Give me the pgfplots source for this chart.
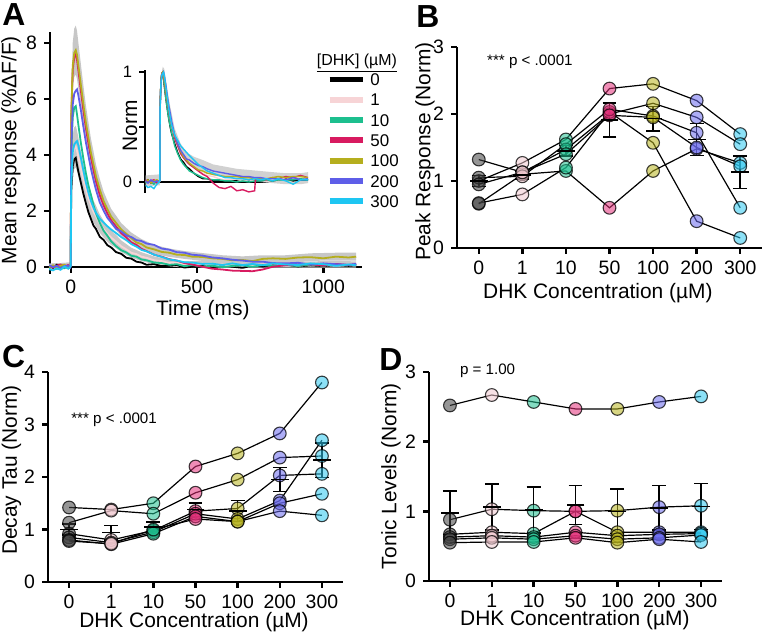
\documentclass[border=0pt]{standalone}
\usepackage{fontspec}
\setmainfont{Liberation Sans}
\usepackage{pgfplots}
\pgfplotsset{compat=1.18}
\usepackage{pgfplotstable}

\definecolor{tz}{HTML}{000000}
\definecolor{to}{HTML}{F7D4D6}
\definecolor{tte}{HTML}{1DBF8E}
\definecolor{tfi}{HTML}{D81B60}
\definecolor{th}{HTML}{B5AE1E}
\definecolor{tt}{HTML}{5E5EE8}
\definecolor{tth}{HTML}{1EC6F2}
\definecolor{mz}{HTML}{404040}
\definecolor{mo}{HTML}{F0C8CF}
\definecolor{mte}{HTML}{1FBF8F}
\definecolor{mfi}{HTML}{E3307A}
\definecolor{mh}{HTML}{B8B41E}
\definecolor{mt}{HTML}{6A6AEE}
\definecolor{mth}{HTML}{2EC8F0}

\pgfplotstableread{
t c0 c1 c10 c50 c100 c200 c300
-85 0.05 0.02 -0.05 0.03 0.00 0.06 -0.08
-70 -0.03 0.05 0.04 -0.02 0.06 0.00 -0.12
-55 0.08 -0.02 -0.06 0.05 -0.03 0.04 -0.05
-40 0.00 0.04 0.02 0.09 0.05 -0.04 -0.10
-25 0.06 0.00 -0.04 0.02 0.08 0.03 0.02
-10 -0.04 0.05 0.03 0.07 -0.02 0.05 -0.06
-2 0.02 0.00 0.01 0.00 0.03 -0.02 0.00
0 0.05 0.05 0.05 0.05 0.05 0.05 0.05
2 2.70 3.00 4.00 5.30 5.40 4.20 3.00
8 3.60 4.00 5.35 7.05 7.20 5.80 4.10
14 3.85 4.25 5.70 7.50 7.65 6.20 4.38
20 3.90 4.30 5.75 7.60 7.75 6.30 4.45
25 3.65 4.15 5.45 7.40 7.58 6.35 4.50
30 3.42 3.95 5.10 7.05 7.22 6.15 4.36
40 3.02 3.52 4.45 6.32 6.52 5.62 3.92
50 2.62 3.12 3.88 5.62 5.82 5.02 3.46
60 2.28 2.78 3.36 4.97 5.16 4.46 3.02
70 1.96 2.46 2.92 4.42 4.62 3.98 2.66
80 1.72 2.22 2.58 3.92 4.08 3.52 2.36
90 1.48 1.98 2.22 3.47 3.67 3.12 2.12
100 1.36 1.82 1.92 3.06 3.24 2.76 1.94
115 1.08 1.55 1.58 2.57 2.77 2.31 1.73
130 0.97 1.36 1.30 2.21 2.36 2.02 1.59
145 0.78 1.19 1.12 1.92 2.07 1.76 1.46
160 0.70 1.05 0.92 1.67 1.80 1.60 1.34
180 0.53 0.90 0.74 1.44 1.57 1.36 1.21
200 0.47 0.74 0.60 1.21 1.34 1.27 1.07
220 0.33 0.63 0.52 1.06 1.19 1.13 0.96
240 0.30 0.51 0.40 0.88 1.03 1.07 0.82
260 0.19 0.46 0.37 0.79 0.88 0.96 0.73
280 0.16 0.37 0.27 0.65 0.82 0.93 0.61
300 0.08 0.33 0.24 0.57 0.70 0.84 0.56
330 0.10 0.24 0.16 0.44 0.63 0.79 0.44
360 0.03 0.21 0.14 0.37 0.54 0.66 0.36
390 0.05 0.14 0.08 0.28 0.51 0.62 0.27
420 0.07 0.15 0.10 0.23 0.44 0.53 0.23
450 -0.02 0.09 0.03 0.14 0.43 0.51 0.17
480 0.01 0.09 0.07 0.09 0.37 0.44 0.16
520 0.04 0.11 0.01 0.01 0.36 0.41 0.11
560 -0.01 0.05 0.05 -0.06 0.31 0.34 0.12
600 0.06 0.09 -0.01 -0.09 0.29 0.31 0.07
640 0.01 0.04 0.04 -0.13 0.24 0.26 0.13
680 -0.03 0.08 0.06 -0.14 0.25 0.23 0.07
720 0.05 0.03 0.01 -0.15 0.21 0.19 0.11
760 0.02 0.09 0.07 -0.09 0.29 0.19 0.06
800 0.06 0.05 0.03 0.01 0.31 0.14 0.13
850 0.09 0.10 0.08 0.06 0.29 0.13 0.09
900 0.02 0.04 0.04 0.09 0.34 0.15 0.07
950 0.06 0.09 0.09 0.10 0.35 0.09 0.13
1000 0.03 0.05 0.05 0.05 0.31 0.13 0.10
1050 0.07 0.10 0.10 0.11 0.37 0.10 0.04
1100 0.04 0.07 0.06 0.07 0.34 0.08 0.09
1130 0.06 0.09 0.09 0.10 0.37 0.11 0.06
}\traces

\pgfplotstableread{
t n0 n1 n10 n50 n100 n200 n300
-95 0.00 0.01 -0.01 0.02 0.00 0.01 -0.03
-80 0.02 -0.01 0.01 0.00 0.02 -0.01 -0.05
-60 -0.01 0.02 0.00 0.01 -0.01 0.02 -0.04
-40 0.01 0.00 -0.02 0.02 0.01 0.00 -0.06
-20 0.00 0.01 0.01 -0.01 0.02 0.01 -0.02
-5 0.01 0.00 0.00 0.01 0.00 0.00 0.00
0 0.01 0.01 0.01 0.01 0.01 0.01 0.01
2 0.70 0.70 0.70 0.70 0.70 0.66 0.67
8 0.92 0.93 0.93 0.93 0.93 0.91 0.91
14 0.99 0.99 0.99 0.99 0.99 0.98 0.97
20 1.00 1.00 1.00 1.00 1.00 0.99 0.99
25 0.94 0.96 0.95 0.97 0.98 1.00 1.00
30 0.88 0.92 0.89 0.93 0.93 0.97 0.97
40 0.77 0.82 0.77 0.83 0.84 0.89 0.87
50 0.67 0.73 0.67 0.74 0.75 0.79 0.77
60 0.58 0.65 0.58 0.65 0.67 0.70 0.67
70 0.50 0.57 0.51 0.58 0.60 0.63 0.59
80 0.44 0.52 0.45 0.52 0.53 0.55 0.52
100 0.35 0.42 0.33 0.40 0.42 0.43 0.43
120 0.27 0.35 0.26 0.33 0.35 0.35 0.38
140 0.21 0.29 0.20 0.26 0.28 0.29 0.33
160 0.18 0.24 0.16 0.22 0.23 0.25 0.30
180 0.14 0.21 0.13 0.19 0.20 0.21 0.27
200 0.12 0.17 0.10 0.16 0.17 0.20 0.24
230 0.08 0.14 0.08 0.13 0.14 0.17 0.20
260 0.05 0.11 0.06 0.10 0.11 0.15 0.16
290 0.03 0.08 0.04 0.07 0.10 0.14 0.13
320 0.03 0.06 0.03 0.05 0.08 0.12 0.10
360 0.01 0.05 0.02 -0.01 0.07 0.10 0.08
400 0.01 0.03 0.02 -0.05 0.06 0.09 0.06
440 0.00 0.02 0.01 -0.06 0.05 0.08 0.04
480 0.01 0.02 0.01 -0.04 0.05 0.07 0.04
520 0.01 0.03 0.00 -0.08 0.05 0.06 0.03
560 0.00 0.01 0.01 -0.07 0.04 0.05 0.03
600 0.02 0.02 0.00 -0.09 0.04 0.05 0.02
640 0.00 0.01 0.01 -0.08 0.03 0.04 0.03
645 0.01 0.02 0.01 0.02 0.03 0.04 0.03
680 0.01 0.02 0.01 0.03 0.03 0.04 0.02
720 0.02 0.01 0.02 0.02 0.03 0.03 0.03
760 0.01 0.03 0.01 0.04 0.04 0.03 0.01
800 0.02 0.02 0.02 0.03 0.05 0.03 0.03
850 0.03 0.04 0.02 0.05 0.04 0.02 0.01
900 0.01 0.03 0.02 0.04 0.05 0.04 -0.02
950 0.02 0.04 0.03 0.06 0.05 0.02 0.02
1000 0.02 0.03 0.02 0.04 0.04 0.03 0.02
}\inset

\pgfplotstableread{
x s1 s2 s3 s4 s5 s6
0 1.00 0.66 1.32 0.67 1.05 0.95
1 1.27 1.10 1.13 0.80 1.07 1.13
2 1.62 1.15 1.47 1.20 1.55 1.40
3 2.38 0.60 2.00 2.03 2.07 1.98
4 2.45 1.15 2.16 1.57 1.97 1.95
5 2.20 1.48 1.95 0.40 1.72 1.50
6 1.70 1.27 1.55 0.15 0.60 1.22
}\peakdata
\pgfplotstableread{
x m e
0 1.00 0.08
1 1.09 0.06
2 1.45 0.08
3 1.91 0.25
4 1.93 0.18
5 1.62 0.24
6 1.13 0.24
}\peakmean

\pgfplotstableread{
x s1 s2 s3 s4 s5 s6
0 1.42 1.13 0.92 0.85 0.80 0.78
1 1.38 1.36 0.80 0.75 0.72 0.73
2 1.50 1.30 0.98 0.95 0.92 1.00
3 2.20 1.70 1.35 1.30 1.25 1.20
4 2.45 1.95 1.40 1.20 1.15 1.15
5 2.83 2.37 2.03 1.55 1.50 1.35
6 3.80 2.40 2.06 2.70 1.68 1.27
}\taudata
\pgfplotstableread{
x m e
0 1.00 0.10
1 0.94 0.14
2 1.05 0.09
3 1.38 0.13
4 1.35 0.20
5 1.95 0.23
6 2.32 0.33
}\taumean

\pgfplotstableread{
x s1 s2 s3 s4 s5 s6
0 2.52 0.88 0.67 0.63 0.60 0.55
1 2.67 1.03 0.70 0.65 0.62 0.56
2 2.57 1.01 0.68 0.63 0.60 0.56
3 2.47 1.00 1.00 0.70 0.65 0.62
4 2.47 1.01 0.70 0.65 0.60 0.55
5 2.57 1.06 0.70 0.67 0.62 0.60
6 2.65 1.08 0.70 0.68 0.66 0.56
}\tonicdata
\pgfplotstableread{
x m e
0 0.98 0.31
1 1.06 0.33
2 1.02 0.33
3 1.09 0.28
4 1.00 0.32
5 1.05 0.32
6 1.07 0.33
}\tonicmean

\pgfplotsset{
  myaxis/.style={
    scale only axis,
    axis line style={line width=1.3pt},
    tick style={line width=1.2pt, black},
    major tick length=3pt,
    tick align=outside,
    tick label style={font=\fontsize{9.75}{10}\selectfont},
    label style={font=\fontsize{10.5}{11}\selectfont},
    /pgf/number format/assume math mode=true,
    /pgf/number format/1000 sep={},
    clip=false,
  },
  catx/.style={
    axis x line*=bottom, axis y line*=left,
    xmin=-0.5, xmax=6.5,
    xtick={0,...,6}, xticklabels={0,1,10,50,100,200,300},
    xlabel={DHK Concentration (µM)},
  },
  subj/.style={black, line width=0.6pt, mark=none},
  dots/.style={only marks, scatter, mark=*, mark size=3.2pt,
    point meta=explicit symbolic,
    mark options={draw=black, draw opacity=0.75, fill opacity=0.55, line width=0.55pt},
    scatter/classes={0={fill=mz},1={fill=mo},2={fill=mte},3={fill=mfi},4={fill=mh},5={fill=mt},6={fill=mth}}},
  meanbar/.style={black, only marks, mark=-, mark size=4.5pt, line width=0.8pt,
    error bars/.cd, y dir=both, y explicit,
    error bar style={line width=0.8pt, black},
    error mark options={rotate=90, mark size=3.5pt, line width=0.8pt, black}},
  trace/.style={line width=0.9pt, mark=none},
}

\newcommand{\subjectplots}[2]{%
  \addplot[subj] table[x=x,y=s1]{#1};
  \addplot[subj] table[x=x,y=s2]{#1};
  \addplot[subj] table[x=x,y=s3]{#1};
  \addplot[subj] table[x=x,y=s4]{#1};
  \addplot[subj] table[x=x,y=s5]{#1};
  \addplot[subj] table[x=x,y=s6]{#1};
  \addplot[dots] table[x=x,y=s1,meta=x]{#1};
  \addplot[dots] table[x=x,y=s2,meta=x]{#1};
  \addplot[dots] table[x=x,y=s3,meta=x]{#1};
  \addplot[dots] table[x=x,y=s4,meta=x]{#1};
  \addplot[dots] table[x=x,y=s5,meta=x]{#1};
  \addplot[dots] table[x=x,y=s6,meta=x]{#1};
  \addplot[meanbar] table[x=x,y=m,y error=e]{#2};
}

\begin{document}
\begin{tikzpicture}
\path[use as bounding box] (0,0) rectangle (383bp,319bp);

% ---------- A main ----------
\begin{axis}[myaxis, at={(25bp,182bp)}, anchor=south west,
  width=156bp, height=121bp,
  xmin=-82, xmax=1153, ymin=-0.25, ymax=8.4,
  axis x line*=middle, axis y line*=left,
  xtick={0,500,1000}, ytick={0,2,4,6,8},
  xlabel={Time (ms)}, ylabel={Mean response (\%ΔF/F)},
  xlabel style={at={(axis description cs:0.49,-0.149)}, anchor=center},
  ylabel style={at={(axis description cs:-0.125,0.512)}, anchor=center},
  legend style={at={(axis description cs:0.885,0.835)}, anchor=north west,
    draw=none, fill=none, inner sep=0pt, row sep=3pt, column sep=2pt,
    font=\fontsize{8.5}{9}\selectfont, cells={anchor=west},
    nodes={inner sep=0.5pt, text height=6.2pt, text depth=0pt}},
  legend image code/.code={\draw[#1, line width=3pt] (0bp,0bp) -- (16.5bp,0bp);},
]
% SEM bands (upper edge forward, lower edge back)
\addplot[fill=black!22, draw=none, forget plot] coordinates {
(-85,0.12)(0,0.16)(2,6.04)(8,8.02)(14,8.52)(20,8.63)(25,8.44)(30,8.04)(40,7.27)(50,6.50)(60,5.78)(70,5.18)(80,4.59)(90,4.14)(100,3.66)(115,3.15)(130,2.70)(145,2.38)(160,2.08)(180,1.83)(200,1.57)(240,1.23)(280,1.00)(330,0.79)(390,0.66)(450,0.57)(520,0.50)(600,0.42)(680,0.38)(760,0.42)(850,0.42)(950,0.49)(1050,0.51)(1130,0.51)
(1130,0.23)(1050,0.23)(950,0.22)(850,0.16)(760,0.16)(680,0.13)(600,0.16)(520,0.22)(450,0.29)(390,0.36)(330,0.47)(280,0.64)(240,0.83)(200,1.11)(180,1.31)(160,1.52)(145,1.76)(130,2.02)(115,2.39)(100,2.82)(90,3.20)(80,3.57)(70,4.06)(60,4.54)(50,5.14)(40,5.77)(30,6.40)(25,6.72)(20,6.88)(14,6.79)(8,6.38)(2,4.76)(0,-0.06)(-85,-0.10)
};
\addplot[fill=black!22, draw=none, forget plot] coordinates {
(-85,0.12)(0,0.16)(2,3.55)(8,4.70)(14,4.99)(20,5.05)(25,4.87)(30,4.64)(40,4.15)(50,3.69)(60,3.30)(70,2.93)(80,2.65)(90,2.38)(100,2.19)(115,1.88)(130,1.66)(145,1.47)(160,1.31)(180,1.14)(200,0.95)(240,0.69)(280,0.53)(330,0.38)(390,0.26)(450,0.20)(520,0.23)(600,0.20)(680,0.19)(760,0.20)(850,0.22)(950,0.20)(1050,0.22)(1130,0.20)
(1130,-0.02)(1050,-0.02)(950,-0.02)(850,-0.02)(760,-0.02)(680,-0.03)(600,-0.02)(520,0.00)(450,-0.02)(390,0.02)(330,0.10)(280,0.21)(240,0.33)(200,0.53)(180,0.67)(160,0.79)(145,0.91)(130,1.06)(115,1.22)(100,1.45)(90,1.58)(80,1.79)(70,1.99)(60,2.26)(50,2.55)(40,2.89)(30,3.26)(25,3.43)(20,3.56)(14,3.51)(8,3.30)(2,2.45)(0,-0.06)(-85,-0.10)
};
\addplot[trace, tz] table[x=t,y=c0]{\traces};
\addplot[trace, to] table[x=t,y=c1]{\traces};
\addplot[trace, tte] table[x=t,y=c10]{\traces};
\addplot[trace, tfi] table[x=t,y=c50]{\traces};
\addplot[trace, th] table[x=t,y=c100]{\traces};
\addplot[trace, tt] table[x=t,y=c200]{\traces};
\addplot[trace, tth] table[x=t,y=c300]{\traces};
\legend{0,1,10,50,100,200,300}
\node[anchor=west, font=\fontsize{8}{9}\selectfont] at (axis description cs:0.833,0.872) {\underline{[DHK] (µM)}};
\end{axis}

% ---------- A inset ----------
\begin{axis}[myaxis, at={(72.5bp,222.5bp)}, anchor=south west,
  width=81.5bp, height=61.5bp,
  xmin=-100, xmax=1000, ymin=-0.1, ymax=1.02,
  axis x line*=middle, axis y line*=left,
  xtick=\empty, ytick={0,0.5,1}, yticklabels={0,,1},
  tick label style={font=\fontsize{8.3}{9}\selectfont},
  ylabel={Norm},
  ylabel style={at={(axis description cs:-0.092,0.545)}, anchor=center},
]
\addplot[fill=black!18, draw=none, forget plot] coordinates {
(-95,0.06)(0,0.07)(2,0.72)(8,0.97)(20,1.05)(30,1.03)(50,0.85)(70,0.69)(100,0.49)(140,0.35)(180,0.27)(230,0.23)(290,0.20)(360,0.16)(440,0.14)(520,0.12)(600,0.11)(680,0.10)(760,0.09)(850,0.08)(950,0.08)(1000,0.09)
(1000,-0.01)(950,-0.02)(850,-0.02)(760,-0.01)(680,0.00)(600,0.01)(520,0.02)(440,0.04)(360,0.06)(290,0.10)(230,0.13)(180,0.17)(140,0.25)(100,0.39)(70,0.59)(50,0.75)(30,0.93)(20,0.95)(8,0.87)(2,0.62)(0,-0.03)(-95,-0.04)
};
\addplot[line width=0.7pt, tz] table[x=t,y=n0]{\inset};
\addplot[line width=0.7pt, to] table[x=t,y=n1]{\inset};
\addplot[line width=0.7pt, tte] table[x=t,y=n10]{\inset};
\addplot[line width=0.7pt, tfi] table[x=t,y=n50]{\inset};
\addplot[line width=0.7pt, th] table[x=t,y=n100]{\inset};
\addplot[line width=0.7pt, tt] table[x=t,y=n200]{\inset};
\addplot[line width=0.7pt, tth] table[x=t,y=n300]{\inset};
\end{axis}

% ---------- B ----------
\begin{axis}[myaxis, catx, at={(228.5bp,195bp)}, anchor=south west,
  width=152.5bp, height=100.5bp,
  ymin=0, ymax=3, ytick={0,1,2,3},
  ylabel={Peak Response (Norm)},
  xlabel style={at={(axis description cs:0.462,-0.224)}, anchor=center},
  ylabel style={at={(axis description cs:-0.105,0.48)}, anchor=center},
]
\subjectplots{\peakdata}{\peakmean}
\node[font=\fontsize{7.6}{8}\selectfont] at (axis description cs:0.239,0.925) {*** p < .0001};
\end{axis}

% ---------- C ----------
\begin{axis}[myaxis, catx, at={(24bp,28bp)}, anchor=south west,
  width=147.5bp, height=105bp,
  ymin=0, ymax=4, ytick={0,1,2,3,4},
  ylabel={Decay Tau (Norm)},
  xlabel style={at={(axis description cs:0.495,-0.19)}, anchor=center},
  ylabel style={at={(axis description cs:-0.124,0.533)}, anchor=center},
]
\subjectplots{\taudata}{\taumean}
\node[font=\fontsize{7.6}{8}\selectfont] at (axis description cs:0.224,0.771) {*** p < .0001};
\end{axis}

% ---------- D ----------
\begin{axis}[myaxis, catx, at={(214.5bp,28.5bp)}, anchor=south west,
  width=146.5bp, height=104.5bp,
  ymin=0, ymax=3, ytick={0,1,2,3},
  ylabel={Tonic Levels (Norm)},
  xlabel style={at={(axis description cs:0.498,-0.187)}, anchor=center},
  ylabel style={at={(axis description cs:-0.13,0.502)}, anchor=center},
]
\subjectplots{\tonicdata}{\tonicmean}
\node[font=\fontsize{7.6}{8}\selectfont] at (axis description cs:0.2,1.005) {p = 1.00};
\end{axis}

\node[font=\fontsize{16}{16}\selectfont\bfseries] at (7bp,311.5bp) {A};
\node[font=\fontsize{16}{16}\selectfont\bfseries] at (214bp,310.5bp) {B};
\node[font=\fontsize{16}{16}\selectfont\bfseries] at (6.8bp,140.5bp) {C};
\node[font=\fontsize{16}{16}\selectfont\bfseries] at (195.5bp,139bp) {D};
\end{tikzpicture}
\end{document}
